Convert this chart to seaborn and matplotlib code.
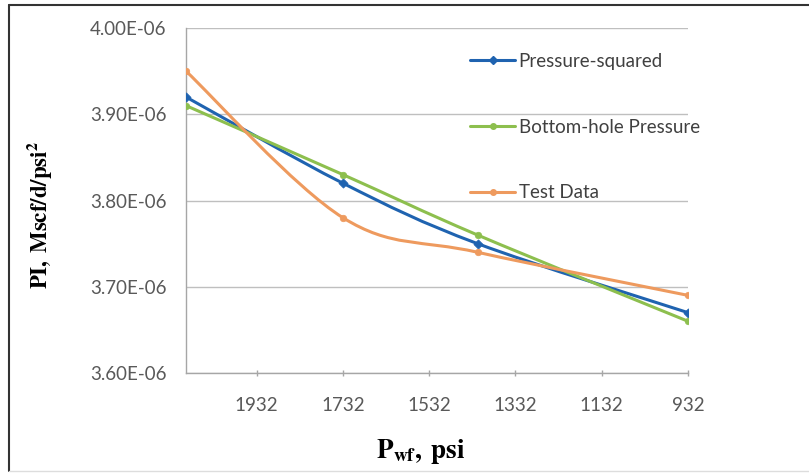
import numpy as np
import pandas as pd
import matplotlib
matplotlib.use("Agg")
import matplotlib.pyplot as plt
import seaborn as sns
from matplotlib.path import Path
from matplotlib.patches import PathPatch
from matplotlib.lines import Line2D
from matplotlib.ticker import FuncFormatter

# ---- data ----
pwf = [2096, 1732, 1420, 932]
pressure_squared = [3.92e-06, 3.82e-06, 3.75e-06, 3.67e-06]
bottom_hole = [3.91e-06, 3.83e-06, 3.76e-06, 3.66e-06]
test_data = [3.95e-06, 3.78e-06, 3.74e-06, 3.69e-06]
series_names = ["Pressure-squared", "Bottom-hole Pressure", "Test Data"]
x_ticks = [1932, 1732, 1532, 1332, 1132, 932]
y_ticks = [3.60e-06, 3.70e-06, 3.80e-06, 3.90e-06, 4.00e-06]

colors = ["#1F63B0", "#8DBF4E", "#EE9A5E"]
markers = ["D", "o", "o"]

sns.set_theme(style="white")
plt.rcParams["font.family"] = ["Lato", "DejaVu Sans"]
plt.rcParams["mathtext.fontset"] = "stix"

W, H = 809, 476
fig = plt.figure(figsize=(W / 100, H / 100), dpi=100)
ax = fig.add_axes([186 / W, 1 - 373 / H, (688 - 186) / W, (373 - 28) / H])

df = pd.DataFrame({"pwf": pwf * 3,
                   "pi": pressure_squared + bottom_hole + test_data,
                   "series": sum([[n] * len(pwf) for n in series_names], [])})


def smooth_path(xs, ys):
    pts = np.column_stack([xs, ys]).astype(float)
    n = len(pts)
    verts = [pts[0]]
    codes = [Path.MOVETO]
    for i in range(n - 1):
        p0 = pts[i - 1] if i > 0 else pts[i]
        p1 = pts[i]
        p2 = pts[i + 1]
        p3 = pts[i + 2] if i + 2 < n else pts[i + 1]
        c1 = p1 + (p2 - p0) / 6.0
        c2 = p2 - (p3 - p1) / 6.0
        verts += [c1, c2, p2]
        codes += [Path.CURVE4] * 3
    return Path(verts, codes)


handles = []
for name, col, mk in zip(series_names, colors, markers):
    sub = df[df["series"] == name]
    patch = PathPatch(smooth_path(sub["pwf"].values, sub["pi"].values),
                      facecolor="none", edgecolor=col, lw=2.2, zorder=3,
                      capstyle="round", joinstyle="round")
    ax.add_patch(patch)
    sns.scatterplot(data=sub, x="pwf", y="pi", ax=ax, color=col, marker=mk,
                    s=22, edgecolor=col, linewidth=0.5, zorder=4, legend=False)
    handles.append(Line2D([0], [0], color=col, lw=2.2, marker=mk,
                          markersize=4, markeredgecolor=col))

ax.set_xlim(max(pwf), min(pwf))
ax.set_ylim(y_ticks[0], y_ticks[-1])
ax.set_xticks(x_ticks)
ax.set_yticks(y_ticks)
ax.yaxis.set_major_formatter(FuncFormatter(lambda v, p: f"{v:.2E}"))
ax.set_xlabel("")
ax.set_ylabel("")

ax.grid(axis="y", color="#BFBFBF", lw=1.0)
ax.grid(axis="x", visible=False)
ax.set_axisbelow(True)
for s in ["top", "right"]:
    ax.spines[s].set_visible(False)
for s in ["left", "bottom"]:
    ax.spines[s].set_color("#A6A6A6")
    ax.spines[s].set_linewidth(1.0)

ax.tick_params(axis="y", length=0, pad=14, labelsize=13.5, labelcolor="#595959")
ax.tick_params(axis="x", length=5, width=1, direction="inout", color="#A6A6A6",
               pad=15, labelsize=13.5, labelcolor="#595959", bottom=True)

fig.text(40 / W, 1 - 215 / H, r"$\mathbf{PI,\;Mscf/d/psi^2}$", rotation=90,
         ha="center", va="center", fontsize=16.5, color="black")
fig.text(421 / W, 1 - 452 / H, r"$\mathbf{P_{wf},\;psi}$",
         ha="center", va="center", fontsize=19.5, color="black")

leg = ax.legend(handles, series_names, loc="upper left",
                bbox_to_anchor=(470 / W, 1 - 53 / H), bbox_transform=fig.transFigure,
                frameon=False, fontsize=13.5, handlelength=2.4, handletextpad=0.2,
                labelspacing=2.6, borderpad=0, borderaxespad=0)
for t in leg.get_texts():
    t.set_color("#404040")

# outer border
fig.add_artist(Line2D([9 / W, 9 / W], [1 - 5 / H, 1 - 471 / H], color="#333333", lw=1.5,
                      transform=fig.transFigure))
fig.add_artist(Line2D([9 / W, 1.0], [1 - 5 / H, 1 - 5 / H], color="#333333", lw=1.5,
                      transform=fig.transFigure))
fig.add_artist(Line2D([9 / W, 1.0], [1 - 471 / H, 1 - 471 / H], color="#DDDDDD", lw=1.0,
                      transform=fig.transFigure))

fig.savefig("out.png", dpi=100)
